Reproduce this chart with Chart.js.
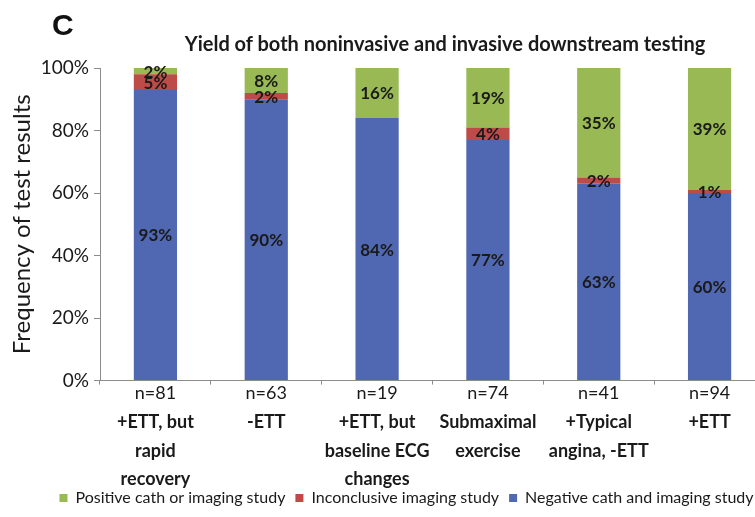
<!DOCTYPE html>
<html>
<head>
<meta charset="utf-8">
<script src="https://cdn.jsdelivr.net/npm/chart.js@4.4.1/dist/chart.umd.min.js"></script>
<style>
  html, body { margin: 0; padding: 0; background: #fff; overflow: hidden; }
  #wrap { position: absolute; left: 0; top: 0; width: 770px; height: 517px; }
  #panel { position: absolute; left: 52px; top: 8px; font: bold 30px Arial, "Liberation Sans", sans-serif; color: #111; }
  #title { position: absolute; left: 0; width: 890px; top: 31px; text-align: center; font: bold 20px Lato, sans-serif; color: #1a1a1a; }
</style>
</head>
<body>
<div id="wrap"><canvas id="chart"></canvas></div>
<div id="panel">C</div>
<div id="title">Yield of both noninvasive and invasive downstream testing</div>
<script>
const categories = [
    ['+ETT, but', 'rapid', 'recovery'],
    ['-ETT'],
    ['+ETT, but', 'baseline ECG', 'changes'],
    ['Submaximal', 'exercise'],
    ['+Typical', 'angina, -ETT'],
    ['+ETT']
];
const sampleSizes = ['n=81', 'n=63', 'n=19', 'n=74', 'n=41', 'n=94'];
const negative = [93, 90, 84, 77, 63, 60];
const inconclusive = [5, 2, 0, 4, 2, 1];
const positive = [2, 8, 16, 19, 35, 39];
const yTicks = [0, 20, 40, 60, 80, 100];

const textColor = '#1a1a1a';
const axisColor = '#8c8c8c';

// percentage labels in the middle of each segment
const barLabels = {
    id: 'barLabels',
    afterDatasetsDraw(chart) {
        const ctx = chart.ctx;
        ctx.save();
        ctx.font = 'bold 17px Lato, sans-serif';
        ctx.fillStyle = textColor;
        ctx.textAlign = 'center';
        ctx.textBaseline = 'middle';
        chart.data.datasets.forEach((ds, i) => {
            const meta = chart.getDatasetMeta(i);
            meta.data.forEach((bar, j) => {
                const v = ds.data[j];
                if (!v) return;
                const p = bar.getProps(['x', 'y', 'base'], true);
                ctx.fillText(v + '%', p.x, (p.y + p.base) / 2 + 1);
            });
        });
        ctx.restore();
    }
};

// the legend in the original sits right of centre and tucked under the labels
const legendShift = {
    id: 'legendShift',
    afterLayout(chart) {
        const lg = chart.legend;
        lg.left += 24;
        lg.right += 24;
        lg.top -= 19;
        lg.bottom -= 19;
    }
};

const ctx = document.getElementById('chart').getContext('2d');
const chart = new Chart(ctx, {
    type: 'bar',
    data: {
        labels: sampleSizes,
        datasets: [
            { label: 'Negative cath and imaging study', data: negative, backgroundColor: '#5067b1' },
            { label: 'Inconclusive imaging study', data: inconclusive, backgroundColor: '#bd4b48' },
            { label: 'Positive cath or imaging study', data: positive, backgroundColor: '#98b954' }
        ]
    },
    options: {
        responsive: true,
        maintainAspectRatio: false,
        animation: false,
        datasets: { bar: { categoryPercentage: 1, barPercentage: 0.39 } },
        layout: { padding: { top: 68, right: 5, left: 0, bottom: -18 } },
        plugins: {
            legend: {
                position: 'bottom',
                reverse: true,
                labels: {
                    boxWidth: 8, boxHeight: 8, padding: 10,
                    color: textColor,
                    font: { family: 'Lato', size: 16, lineHeight: 1 }
                }
            },
            tooltip: { enabled: false }
        },
        scales: {
            x: {
                stacked: true,
                afterFit(scale) { scale.height = 22; },
                grid: { display: true, drawOnChartArea: false, tickLength: 4, color: axisColor },
                border: { color: axisColor },
                ticks: { color: textColor, padding: 0, font: { family: 'Lato', size: 18, lineHeight: 1 } }
            },
            x2: {
                type: 'category',
                position: 'bottom',
                labels: categories,
                grid: { display: false, drawTicks: false, tickLength: 0 },
                border: { display: false },
                ticks: { color: textColor, padding: 5, font: { family: 'Lato', size: 18, weight: 'bold', lineHeight: 1.6 } }
            },
            y: {
                stacked: true,
                min: 0,
                max: 100,
                afterFit(scale) { scale.width = 100; },
                afterBuildTicks(scale) { scale.ticks = yTicks.map(v => ({ value: v })); },
                grid: { display: true, drawOnChartArea: false, tickLength: 6, color: axisColor },
                border: { color: axisColor },
                ticks: {
                    color: textColor,
                    padding: 5,
                    font: { family: 'Lato', size: 19 },
                    callback: v => v + '%'
                },
                title: {
                    display: true,
                    text: 'Frequency of test results',
                    color: textColor,
                    padding: { top: 8, bottom: 0 },
                    font: { family: 'Lato', size: 24 }
                }
            }
        }
    },
    plugins: [barLabels, legendShift]
});
</script>
</body>
</html>
